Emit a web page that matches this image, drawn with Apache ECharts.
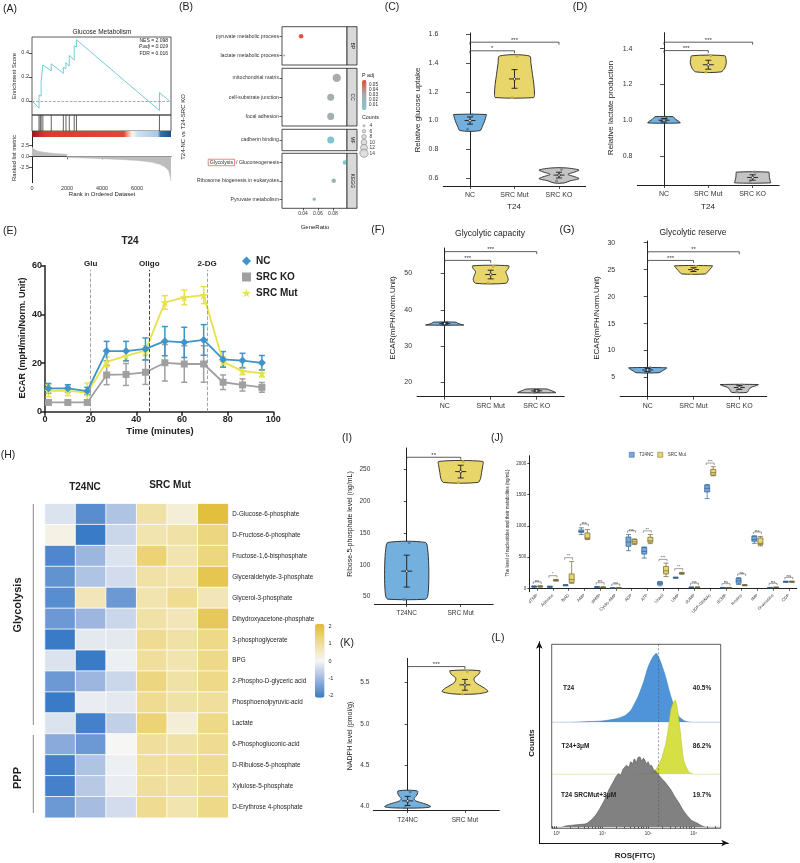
<!DOCTYPE html>
<html>
<head>
<meta charset="utf-8">
<title>SRC glucose metabolism figure</title>
<script src="https://cdn.jsdelivr.net/npm/echarts@6.0.0/dist/echarts.min.js"></script>
<style>
  html, body { margin: 0; padding: 0; background: #ffffff; }
  #fig { width: 800px; height: 863px; }
</style>
</head>
<body>
<div id="fig"></div>
<script>
const FONT = '"Liberation Sans", Arial, sans-serif';

// ---------------- data ----------------
// (A) GSEA
const esCurve = [[0,0],[400,-0.06],[400,0.05],[520,0.04],[520,0.16],[620,0.15],[620,0.30],[1100,0.25],[1100,0.31],
  [1790,0.23],[1790,0.28],[1940,0.27],[1940,0.32],[2130,0.29],[2130,0.38],[2410,0.34],[2410,0.46],[2540,0.45],
  [2540,0.51],[7280,-0.08],[7280,0.07],[7850,0.0]];
const hitRanks = [400, 470, 520, 620, 1100, 1790, 1940, 2130, 2410, 2540, 7280];
const rankMetric = [[0,2.1],[100,1.6],[300,1.2],[600,0.95],[1000,0.75],[1500,0.55],[1990,0.45],[2010,-0.25],
  [3000,-0.4],[4000,-0.55],[5000,-0.7],[6000,-0.95],[6800,-1.3],[7300,-1.8],[7600,-2.4],[7800,-3.2],[7900,-4.6],[7940,-5.5]];
const esStats = ['NES = 2.098', 'P.adj = 0.019', 'FDR = 0.016'];

// (B) enrichment
const goTerms = ['pyruvate metabolic process', 'lactate metabolic process', 'mitochondrial matrix',
  'cell-substrate junction', 'focal adhesion', 'cadherin binding', 'Glycolysis / Gluconeogenesis',
  'Ribosome biogenesis in eukaryotes', 'Pyruvate metabolism'];
const goFacet = ['BP', 'BP', 'CC', 'CC', 'CC', 'MF', 'KEGG', 'KEGG', 'KEGG'];
const goRatio = [0.0375, 0.015, 0.085, 0.077, 0.077, 0.077, 0.096, 0.081, 0.055];
const goCount = [8, 4, 14, 12, 12, 12, 8, 8, 6];
const goPadj = [0.048, 0.03, 0.03, 0.028, 0.028, 0.012, 0.011, 0.022, 0.02];
const facets = ['BP', 'CC', 'MF', 'KEGG'];
const countLevels = [4, 6, 8, 10, 12, 14];
const padjTicks = [0.05, 0.04, 0.03, 0.02, 0.01];

// (C)
const groupNames = ['NC', 'SRC Mut', 'SRC KO'];
const glucoseProfile = [
  [[0.93,0.5],[0.96,0.62],[1.0,0.74],[1.03,0.8],[1.042,0.82]],
  [[1.16,0.95],[1.18,1.0],[1.25,0.97],[1.32,0.9],[1.4,0.82],[1.45,0.75]],
  [[0.565,0.25],[0.58,0.55],[0.595,1.0],[0.61,0.75],[0.625,0.45],[0.64,0.75],[0.655,1.0],[0.67,0.35]]
];
const glucosePoints = [[0.94, 1.0, 1.04], [1.16, 1.28, 1.45], [0.58, 0.62, 0.66]];
const glucoseMean = [1.0, 1.29, 0.62];
const glucoseSD = [0.025, 0.065, 0.02];
const glucoseSig = [[0, 1, 1.486, '*'], [0, 2, 1.546, '***']];

// (D)
const lactateProfile = [
  [[0.985,0.9],[0.995,0.8],[1.005,0.65],[1.015,0.55],[1.02,0.5]],
  [[1.27,0.7],[1.29,0.9],[1.32,1.0],[1.34,0.98],[1.36,0.92]],
  [[0.65,1.0],[0.66,0.98],[0.68,0.93],[0.70,0.92],[0.71,0.9]]
];
const lactatePoints = [[0.995, 1.0, 1.01], [1.27, 1.31, 1.36], [0.66, 0.68, 0.71]];
const lactateMean = [1.0, 1.31, 0.68];
const lactateSD = [0.01, 0.025, 0.015];
const lactateSig = [[0, 1, 1.389, '***'], [0, 2, 1.436, '***']];

// (E) Seahorse ECAR
const ecarTime = [1.5, 10, 18.5, 27, 35.5, 44, 52.5, 61, 69.5, 78, 86.5, 95];
const ecarNC = [9.6, 9.6, 8.5, 24.9, 24.9, 25.8, 29.0, 28.5, 29.5, 21.5, 21.0, 20.1];
const ecarNCsd = [2, 1.5, 1.5, 4, 4, 4.5, 6, 6.2, 6.3, 3.2, 3, 3];
const ecarKO = [3.8, 3.8, 3.8, 15.1, 15.3, 16.2, 20.1, 19.6, 19.6, 12.1, 11.0, 10.0];
const ecarKOsd = [0.8, 0.8, 0.8, 4, 4.5, 5, 7.5, 7.5, 7.5, 3, 2.5, 2];
const ecarMut = [8.6, 8.6, 7.8, 20.5, 22.9, 25.1, 44.9, 47.0, 47.9, 20.5, 16.7, 15.8];
const ecarMutsd = [2.5, 2, 4, 2, 2, 2, 2.8, 3, 3.5, 2, 1.5, 1.5];
const injections = [[20, 'Glu'], [45.7, 'Oligo'], [71, '2-DG']];

// (F)
const capacityProfile = [
  [[35.8,1.0],[36.0,0.85],[36.3,0.68],[36.6,0.6]],
  [[47.3,0.8],[48.3,0.92],[49.5,0.86],[50.5,0.8],[51.3,0.92],[52.1,0.95]],
  [[17.2,1.0],[17.5,0.9],[17.9,0.7],[18.2,0.55]]
];
const capacityPoints = [[35.9, 36.2, 36.6], [47.4, 49.8, 52.0], [17.3, 17.7, 18.1]];
const capacityMean = [36.2, 49.7, 17.7];
const capacitySD = [0.3, 1.2, 0.3];
const capacitySig = [[0, 1, 53.6, '***'], [0, 2, 56, '***']];

// (G)
const reserveProfile = [
  [[5.9,0.6],[6.2,0.75],[6.5,0.9],[6.8,1.0]],
  [[24.2,0.62],[24.6,0.75],[25.0,0.85],[25.4,0.95],[25.7,1.0]],
  [[2.25,0.4],[2.6,0.48],[3.0,0.55],[3.3,0.7],[3.5,0.9],[3.7,1.0]]
];
const reservePoints = [[6.0, 6.4, 6.8], [24.3, 25.0, 25.6], [2.4, 3.1, 3.6]];
const reserveMean = [6.4, 25.0, 3.15];
const reserveSD = [0.3, 0.35, 0.35];
const reserveSig = [[0, 1, 26.7, '***'], [0, 2, 28.3, '**']];

// (H) heatmap (z-scores)
const metabolites = ['D-Glucose-6-phosphate', 'D-Fructose-6-phosphate', 'Fructose-1,6-bisphosphate',
  'Glyceraldehyde-3-phosphate', 'Glycerol-3-phosphate', 'Dihydroxyacetone-phosphate', '3-phosphoglycerate',
  'BPG', '2-Phospho-D-glyceric acid', 'Phosphoenolpyruvic-acid', 'Lactate', '6-Phosphogluconic-acid',
  'D-Ribulose-5-phosphate', 'Xylulose-5-phosphate', 'D-Erythrose 4-phosphate'];
const heatSamples = ['T24NC-1', 'T24NC-2', 'T24NC-3', 'SRC Mut-1', 'SRC Mut-2', 'SRC Mut-3'];
const heatValues = [
  [-0.3, -1.7, -0.8, 0.8, 0.3, 1.9],
  [0.15, -2.0, -0.5, 0.7, 0.8, 1.2],
  [-1.8, -1.0, -0.3, 1.3, 0.7, 1.2],
  [-1.6, -0.8, -0.4, 0.8, 0.7, 1.7],
  [-1.7, 0.6, -1.5, 0.7, 1.0, 0.6],
  [-1.5, -1.0, -0.5, 0.8, 0.6, 1.6],
  [-2.0, -0.2, -0.2, 1.0, 0.8, 1.1],
  [-0.3, -2.0, -0.1, 0.9, 0.7, 1.1],
  [-1.5, -1.0, -0.5, 1.2, 0.8, 1.1],
  [-2.0, -0.15, -0.2, 1.0, 0.8, 0.9],
  [-0.3, -1.9, -0.6, 1.3, 0.3, 1.1],
  [-1.2, -1.5, 0.0, 0.9, 0.8, 1.0],
  [-1.9, -0.8, -0.1, 0.9, 0.9, 1.0],
  [-1.9, -0.7, -0.15, 0.9, 0.8, 1.0],
  [-1.5, -0.9, -0.4, 1.0, 0.7, 1.1]
];
const heatTicks = [2, 1, 0, -1, -2];

// (I)
const pairNames = ['T24NC', 'SRC Mut'];
const riboseProfile = [
  [[46,0.85],[50,0.95],[70,1.0],[100,1.0],[125,0.95],[135,0.85]],
  [[229,0.78],[235,0.9],[245,0.95],[255,1.0],[262,1.0]]
];
const ribosePoints = [[46, 90, 135], [229, 246, 262]];
const riboseMean = [90, 246];
const riboseSD = [25, 10];
const riboseSig = [[0, 1, 268.5, '**']];

// (J) nucleotides boxplots [min, Q1, median, Q3, max]
const nucleotides = ['dTMP', 'Adenine', 'NAD', 'AMP', 'dAMP', 'Cyclic-AMP', 'ADP', 'ATP', 'Uracil', 'UMP',
  'dUMP', 'UDP-GlcNAc', 'dCMP', 'Inosine', 'IMP', 'Guanosine', 'CDP'];
const nucNC = [[15,22,28,33,40],[12,18,24,30,36],[40,45,50,55,60],[860,895,910,935,968],[10,15,20,25,30],
  [2,4,5,7,9],[602,672,740,822,860],[484,548,590,656,660],[40,60,80,100,110],[160,165,170,175,180],
  [8,12,15,18,22],[1435,1542,1600,1650,1660],[5,8,10,12,15],[60,80,120,160,170],[720,753,780,833,840],
  [5,8,10,12,15],[95,100,105,110,115]];
const nucMut = [[18,24,30,34,42],[115,122,130,136,142],[80,95,140,230,430],[780,790,805,885,940],[8,12,15,20,25],
  [2,4,5,7,9],[700,715,745,780,790],[715,737,760,817,860],[188,231,280,350,403],[225,232,240,248,255],
  [8,12,15,18,22],[1800,1811,1850,1903,1945],[5,8,10,12,15],[40,45,50,55,60],[680,699,720,806,830],
  [10,12,15,18,20],[95,100,105,110,115]];
const nucSig = ['ns', '*', '**', 'ns', 'ns', 'ns', 'ns', '**', '***', '**', 'ns', '***', 'ns', 'ns', 'ns', 'ns', 'ns'];

// (K)
const nadphProfile = [
  [[3.985,0.6],[4.0,1.0],[4.03,0.8],[4.07,0.35],[4.1,0.28],[4.14,0.4],[4.19,0.42]],
  [[5.36,0.5],[5.39,1.0],[5.43,0.85],[5.5,0.45],[5.55,0.4],[5.6,0.6],[5.64,0.65]]
];
const nadphPoints = [[3.99, 4.06, 4.18], [5.36, 5.47, 5.63]];
const nadphMean = [4.07, 5.47];
const nadphSD = [0.055, 0.065];
const nadphSig = [[0, 1, 5.69, '***']];

// (L) ROS flow histograms, x = log10(FITC), y = relative count
const rosT24 = [[2.89,0],[3.3,0],[3.7,0.01],[4.0,0.02],[4.3,0.05],[4.5,0.1],[4.62,0.17],[4.78,0.37],[4.9,0.58],
  [5.0,0.8],[5.1,0.94],[5.18,1.0],[5.26,0.9],[5.36,0.71],[5.5,0.37],[5.6,0.18],[5.68,0.08],[5.8,0.02],[5.95,0],[6.59,0]];
const rosT24Drug = [[2.89,0],[4.8,0],[5.0,0.01],[5.15,0.05],[5.28,0.19],[5.39,0.42],[5.45,0.65],[5.5,0.87],
  [5.56,0.98],[5.6,1.0],[5.65,0.85],[5.7,0.6],[5.78,0.19],[5.89,0.035],[6.0,0],[6.59,0]];
const rosMutDrug = [[2.89,0],[3.1,0],[3.2,0.02],[3.35,0.03],[3.5,0.04],[3.64,0.05],[3.75,0.1],[3.85,0.17],
  [3.93,0.25],[4.0,0.33],[4.07,0.42],[4.14,0.53],[4.2,0.6],[4.26,0.67],[4.3,0.72],[4.36,0.76],[4.4,0.74],
  [4.45,0.82],[4.5,0.86],[4.53,0.88],[4.58,0.85],[4.62,0.93],[4.66,0.9],[4.7,0.97],[4.74,0.92],[4.78,0.99],
  [4.82,1.0],[4.86,0.94],[4.9,0.98],[4.93,0.95],[4.97,0.9],[5.0,0.93],[5.04,0.87],[5.07,0.88],[5.12,0.82],
  [5.16,0.8],[5.21,0.76],[5.26,0.72],[5.31,0.68],[5.36,0.65],[5.42,0.6],[5.5,0.53],[5.58,0.44],[5.68,0.34],
  [5.76,0.25],[5.85,0.17],[5.95,0.1],[6.07,0.06],[6.18,0.02],[6.28,0],[6.59,0]];
const rosNames = ['T24', 'T24+3\u03bcM', 'T24 SRCMut+3\u03bcM'];
const rosPercent = ['40.5%', '86.2%', '19.7%'];
const rosGate = 5.23;

// ---------------- helpers ----------------
const grids = [], xAxes = [], yAxes = [], series = [], graphics = [];
const INK = '#222';

function addGrid(box, xa, ya, extra) {
  const i = grids.length;
  grids.push(Object.assign({ containLabel: false, outerBoundsMode: 'none' }, box, extra || {}));
  xa.gridIndex = i; ya.gridIndex = i;
  xAxes.push(xa); yAxes.push(ya);
  return i;
}
function hiddenAxis(min, max) {
  return { type: 'value', min: min, max: max, show: false, splitLine: { show: false } };
}
function valueAxis(min, max, ticks, fmt, o) {
  o = o || {};
  return {
    type: 'value', min: min, max: max, position: o.position,
    axisLine: o.axisLine || { show: true, lineStyle: { color: INK, width: o.lineWidth || 1 } },
    axisTick: { show: o.ticks !== false, length: o.tickLen || 3, customValues: ticks, inside: !!o.inside,
      lineStyle: { color: INK, width: o.lineWidth || 0.8 } },
    axisLabel: { show: o.labels !== false, customValues: ticks, formatter: fmt, fontSize: o.fontSize || 7,
      color: '#333', fontFamily: FONT, margin: o.margin || 3, fontWeight: o.bold ? 'bold' : 'normal' },
    splitLine: { show: false }
  };
}
function groupAxis(names, fs, margin) {
  const idx = names.map((_, i) => i);
  return {
    type: 'value', min: -0.6, max: names.length - 0.4,
    axisLine: { show: true, lineStyle: { color: INK, width: 1 } },
    axisTick: { show: true, customValues: idx, length: 3, lineStyle: { color: INK, width: 0.8 } },
    axisLabel: { customValues: idx, formatter: v => names[Math.round(v)], fontSize: fs, color: '#333',
      fontFamily: FONT, margin: margin || 6 },
    splitLine: { show: false }
  };
}
function categoryAxis(data, o) {
  o = o || {};
  return {
    type: 'category', data: data, inverse: !!o.inverse, position: o.position, show: o.show !== false,
    axisLine: o.axisLine || { show: true, lineStyle: { color: INK, width: 1 } },
    axisTick: { show: o.ticks !== false, alignWithLabel: true, length: 2.5, lineStyle: { color: INK, width: 0.7 } },
    axisLabel: Object.assign({ show: o.labels !== false, fontSize: o.fontSize || 7, color: '#333',
      fontFamily: FONT, margin: o.margin || 4, interval: 0 }, o.axisLabel || {})
  };
}
function label(x, y, str, style, rotation) {
  graphics.push({ type: 'text', x: x, y: y, rotation: rotation || 0, z: 100, silent: true,
    style: Object.assign({ text: str, fontFamily: FONT, fontSize: 7, fill: INK, align: 'center',
      verticalAlign: 'middle' }, style || {}) });
}

const violinFill3 = ['#74b0de', '#e8d66a', '#c4c4c4'];
const violinDot3 = ['#3f7fc0', '#cdb23a', '#8a8a8a'];
const violinFill2 = ['#74b0de', '#e8d66a'];
const violinDot2 = ['#3f7fc0', '#cdb23a'];

function violins(gi, profile, pts, mean, sd, halfW, fills, dots) {
  series.push({
    type: 'custom', xAxisIndex: gi, yAxisIndex: gi, z: 3, silent: true,
    data: mean.map((m, i) => [i, m]),
    renderItem: function (params, api) {
      const i = params.dataIndex;
      const left = profile[i].map(p => { const c = api.coord([i, p[0]]); return [c[0] - p[1] * halfW, c[1]]; });
      const right = profile[i].slice().reverse().map(p => { const c = api.coord([i, p[0]]); return [c[0] + p[1] * halfW, c[1]]; });
      const kids = [{ type: 'polygon', shape: { points: left.concat(right), smooth: 0.3 },
        style: { fill: fills[i], stroke: '#262626', lineWidth: 0.9 } }];
      pts[i].forEach((v, k) => {
        const c = api.coord([i, v]);
        kids.push({ type: 'circle', shape: { cx: c[0] + (k - 1) * 2.5, cy: c[1], r: 1.5 }, style: { fill: dots[i] } });
      });
      const m = api.coord([i, mean[i]]), hi = api.coord([i, mean[i] + sd[i]]), lo = api.coord([i, mean[i] - sd[i]]);
      const ln = (a, b) => ({ type: 'line', shape: { x1: a[0], y1: a[1], x2: b[0], y2: b[1] },
        style: { stroke: '#1a1a1a', lineWidth: 0.9 } });
      kids.push(ln([m[0], hi[1]], [m[0], lo[1]]));
      kids.push(ln([m[0] - 3, hi[1]], [m[0] + 3, hi[1]]));
      kids.push(ln([m[0] - 3, lo[1]], [m[0] + 3, lo[1]]));
      kids.push(ln([m[0] - 5.5, m[1]], [m[0] + 5.5, m[1]]));
      kids.push({ type: 'circle', shape: { cx: m[0], cy: m[1], r: 1.2 }, style: { fill: '#fff', stroke: '#1a1a1a', lineWidth: 0.6 } });
      return { type: 'group', children: kids };
    }
  });
}
function brackets(gi, list, fs) {
  series.push({
    type: 'custom', xAxisIndex: gi, yAxisIndex: gi, z: 4, silent: true, clip: false,
    data: list.map(b => [b[0], b[2]]),
    renderItem: function (params, api) {
      const b = list[params.dataIndex];
      const p = api.coord([b[0], b[2]]), q = api.coord([b[1], b[2]]);
      return { type: 'group', children: [
        { type: 'polyline', shape: { points: [[p[0], p[1] + 2.5], [p[0], p[1]], [q[0], q[1]], [q[0], q[1] + 2.5]] },
          style: { stroke: '#333', lineWidth: 0.8, fill: null } },
        { type: 'text', x: (p[0] + q[0]) / 2, y: p[1] + 1, style: { text: b[3], fontSize: fs, fill: '#333',
          align: 'center', verticalAlign: 'bottom', fontFamily: FONT } }
      ] };
    }
  });
}
function errorBars(gi, xs, ys, sds, color) {
  series.push({
    type: 'custom', xAxisIndex: gi, yAxisIndex: gi, z: 2, silent: true,
    data: xs.map((x, i) => [x, ys[i], sds[i]]),
    renderItem: function (params, api) {
      const x = api.value(0), y = api.value(1), s = api.value(2);
      const hi = api.coord([x, y + s]), lo = api.coord([x, y - s]);
      const st = { stroke: color, lineWidth: 1.5 };
      return { type: 'group', children: [
        { type: 'line', shape: { x1: hi[0], y1: hi[1], x2: lo[0], y2: lo[1] }, style: st },
        { type: 'line', shape: { x1: hi[0] - 3, y1: hi[1], x2: hi[0] + 3, y2: hi[1] }, style: st },
        { type: 'line', shape: { x1: lo[0] - 3, y1: lo[1], x2: lo[0] + 3, y2: lo[1] }, style: st }
      ] };
    }
  });
}

// ---------------- (A) GSEA ----------------
const gES = addGrid({ left: 32, top: 37, width: 139, height: 78 }, hiddenAxis(0, 7940),
  valueAxis(-0.117, 0.533, [0, 0.2, 0.4], v => v.toFixed(1), { fontSize: 5.5, axisLine: { show: false } }),
  { show: true, borderColor: '#333', borderWidth: 0.8 });
const gHit = addGrid({ left: 32, top: 115, width: 139, height: 16 }, hiddenAxis(0, 7940), hiddenAxis(0, 1),
  { show: true, borderColor: '#333', borderWidth: 0.8 });
const gBar = addGrid({ left: 32, top: 131, width: 139, height: 6 }, hiddenAxis(0, 7940), hiddenAxis(0, 1));
const gMet = addGrid({ left: 32, top: 137, width: 139, height: 45.7 },
  valueAxis(0, 7940, [0, 2000, 4000, 6000], v => String(v), { fontSize: 5.5 }),
  valueAxis(-5.9, 4.3, [-2.5, 0, 2.5], v => v.toFixed(1), { fontSize: 5.5 }));

series.push({ type: 'line', xAxisIndex: gES, yAxisIndex: gES, data: esCurve, symbol: 'none', silent: true,
  lineStyle: { color: '#74cdd8', width: 1 },
  markLine: { silent: true, symbol: 'none', data: [{ yAxis: 0 }], label: { show: false },
    lineStyle: { type: 'dashed', color: '#8a8a8a', width: 0.7 } } });
series.push({ type: 'custom', xAxisIndex: gHit, yAxisIndex: gHit, silent: true,
  data: hitRanks.map(r => [r, 0]),
  renderItem: function (params, api) {
    const a = api.coord([api.value(0), 0]), b = api.coord([api.value(0), 1]);
    return { type: 'line', shape: { x1: a[0], y1: a[1], x2: b[0], y2: b[1] }, style: { stroke: '#3a3a3a', lineWidth: 0.8 } };
  } });
series.push({ type: 'custom', xAxisIndex: gBar, yAxisIndex: gBar, silent: true,
  data: [[0, 7940]],
  renderItem: function (params, api) {
    const a = api.coord([api.value(0), 1]), b = api.coord([api.value(1), 0]);
    return { type: 'rect', shape: { x: a[0], y: a[1], width: b[0] - a[0], height: b[1] - a[1] },
      style: { fill: new echarts.graphic.LinearGradient(0, 0, 1, 0, [
        { offset: 0, color: '#8e1b1b' }, { offset: 0.05, color: '#c2292a' }, { offset: 0.1, color: '#d93a30' },
        { offset: 0.66, color: '#e0473b' }, { offset: 0.69, color: '#f2a48a' }, { offset: 0.715, color: '#fbe8df' },
        { offset: 0.73, color: '#eef3f8' }, { offset: 0.76, color: '#cfe1f0' }, { offset: 0.905, color: '#a9c9e5' },
        { offset: 0.925, color: '#3470b0' }, { offset: 1, color: '#1f4c8a' }]) } };
  } });
series.push({ type: 'line', xAxisIndex: gMet, yAxisIndex: gMet, data: rankMetric, symbol: 'none', silent: true,
  lineStyle: { color: '#bdbdbd', width: 0.5 }, areaStyle: { color: '#bdbdbd', opacity: 1 } });

label(102, 32, 'Glucose Metabolism', { fontSize: 6.5 });
esStats.forEach((s, k) => label(168, 40.7 + k * 6.3, s, { fontSize: 5, align: 'right', fontStyle: k === 1 ? 'italic' : 'normal' }));
label(14, 76, 'Enrichment Score', { fontSize: 5.8 }, Math.PI / 2);
label(14, 158, 'Ranked list metric', { fontSize: 5.8 }, Math.PI / 2);
label(102, 194, 'Rank in Ordered Dataset', { fontSize: 6 });

// ---------------- (B) dot plot ----------------
const sizeOf = c => 0.62 * c - 0.4;
const facetBox = [[26.7, 38.3], [68.3, 57.7], [129.3, 21.4], [153.3, 55]];
const dotSeries = [];
facets.forEach((f, fi) => {
  const terms = goTerms.filter((t, i) => goFacet[i] === f);
  const last = fi === facets.length - 1;
  const gi = addGrid({ left: 282, top: facetBox[fi][0], width: 65, height: facetBox[fi][1] },
    valueAxis(0.012, 0.0987, [0.04, 0.06, 0.08], v => v.toFixed(2),
      { labels: last, ticks: last, fontSize: 5, axisLine: { show: false }, tickLen: 2 }),
    categoryAxis(terms, { inverse: true, fontSize: 5.2, margin: 3, axisLine: { show: false },
      axisLabel: { color: '#333',
        formatter: v => v.indexOf('Glycolysis') === 0 ? '{box|Glycolysis} / Gluconeogenesis' : v,
        rich: { box: { borderColor: '#d9534f', borderWidth: 0.7, padding: [1, 1.5, 0.5, 1.5], fontSize: 5.2, color: '#333' } } } }),
    { show: true, borderColor: '#222', borderWidth: 0.8 });
  dotSeries.push(series.length);
  series.push({ type: 'scatter', xAxisIndex: gi, yAxisIndex: gi, silent: true,
    data: goTerms.map((t, i) => [goRatio[i], t, goPadj[i], goCount[i]]).filter((d, i) => goFacet[i] === f),
    symbolSize: v => sizeOf(v[3]), itemStyle: { opacity: 1 } });
  graphics.push({ type: 'rect', z: 100, silent: true,
    shape: { x: 347, y: facetBox[fi][0], width: 10, height: facetBox[fi][1] },
    style: { fill: '#d9d9d9', stroke: '#222', lineWidth: 0.8 } });
  label(352, facetBox[fi][0] + facetBox[fi][1] / 2, f, { fontSize: 5 }, -Math.PI / 2);
});
const gCnt = addGrid({ left: 360, top: 123, width: 8, height: 33 }, hiddenAxis(-1, 1),
  categoryAxis(countLevels.map(String), { inverse: true, position: 'right', axisLine: { show: false }, ticks: false,
    fontSize: 4.8, margin: 1.5 }));
series.push({ type: 'scatter', xAxisIndex: gCnt, yAxisIndex: gCnt, silent: true,
  data: countLevels.map(c => [0, String(c), c]), symbolSize: v => sizeOf(v[2]),
  itemStyle: { color: '#d6d6d6', borderColor: '#555', borderWidth: 0.5 } });
label(362, 76, 'P adj', { fontSize: 5.3, align: 'left' });
padjTicks.forEach((p, k) => label(369, 84.3 + k * 5, p.toFixed(2), { fontSize: 4.6, align: 'left' }));
label(362, 118, 'Counts', { fontSize: 5.3, align: 'left' });
label(183, 127, 'T24-NC vs T24-SRC KO', { fontSize: 6 }, Math.PI / 2);
label(315, 227, 'GeneRatio', { fontSize: 6 });

// ---------------- (C) (D) (F) (G) violins ----------------
const vy = { margin: 5, tickLen: 4 };
const gC = addGrid({ left: 443.3, top: 33, width: 142.4, height: 153 }, groupAxis(groupNames, 7),
  valueAxis(0.544, 1.61, [0.6, 0.8, 1.0, 1.2, 1.4, 1.6], v => v.toFixed(1), vy));
violins(gC, glucoseProfile, glucosePoints, glucoseMean, glucoseSD, 20, violinFill3, violinDot3);
brackets(gC, glucoseSig, 6);
label(418, 110, 'Relative glucose uptake', { fontSize: 8 }, Math.PI / 2);
label(514, 207, 'T24', { fontSize: 8 });

const gD = addGrid({ left: 637.4, top: 32.7, width: 141.8, height: 152.3 }, groupAxis(groupNames, 7),
  valueAxis(0.638, 1.489, [0.8, 1.0, 1.2, 1.4], v => v.toFixed(1), vy));
violins(gD, lactateProfile, lactatePoints, lactateMean, lactateSD, 18, violinFill3, violinDot3);
brackets(gD, lactateSig, 6);
label(611, 108, 'Relative lactate production', { fontSize: 8 }, Math.PI / 2);
label(708, 207, 'T24', { fontSize: 8 });

const gF = addGrid({ left: 417.1, top: 248, width: 147.2, height: 148.7 }, groupAxis(groupNames, 7),
  valueAxis(16.1, 57, [20, 30, 40, 50], v => String(v), vy));
violins(gF, capacityProfile, capacityPoints, capacityMean, capacitySD, 19, violinFill3, violinDot3);
brackets(gF, capacitySig, 6);
label(393, 318, 'ECAR(mPH/Norm.Unit)', { fontSize: 8 }, Math.PI / 2);
label(490, 234, 'Glycolytic capacity', { fontSize: 8.5 });

const gG = addGrid({ left: 620.2, top: 241, width: 146.6, height: 155.7 }, groupAxis(groupNames, 7),
  valueAxis(1.45, 30.3, [5, 10, 15, 20, 25, 30], v => String(v), vy));
violins(gG, reserveProfile, reservePoints, reserveMean, reserveSD, 19, violinFill3, violinDot3);
brackets(gG, reserveSig, 6);
label(597, 318, 'ECAR(mPH/Norm.Unit)', { fontSize: 8 }, Math.PI / 2);
label(693, 233, 'Glycolytic reserve', { fontSize: 8.5 });

// ---------------- (E) ECAR time course ----------------
const cNC = '#3d95c9', cKO = '#a0a0a0', cMut = '#e8e24a';
const starPath = 'path://M50,2 L61,37 L98,37 L68,59 L79,94 L50,72 L21,94 L32,59 L2,37 L39,37 Z';
const gE = addGrid({ left: 45, top: 265.7, width: 228.3, height: 146 },
  { type: 'value', min: 0, max: 100, interval: 20, axisLine: { lineStyle: { color: INK, width: 1.5 } },
    axisTick: { length: 4, lineStyle: { color: INK, width: 1.5 } },
    axisLabel: { fontSize: 9, fontWeight: 'bold', color: INK, fontFamily: FONT, margin: 3 }, splitLine: { show: false } },
  { type: 'value', min: 0, max: 60, interval: 20, axisLine: { show: true, lineStyle: { color: INK, width: 1.5 } },
    axisTick: { show: true, length: 4, lineStyle: { color: INK, width: 1.5 } },
    axisLabel: { fontSize: 9, fontWeight: 'bold', color: INK, fontFamily: FONT, margin: 3 }, splitLine: { show: false } });
errorBars(gE, ecarTime, ecarKO, ecarKOsd, cKO);
errorBars(gE, ecarTime, ecarMut, ecarMutsd, cMut);
errorBars(gE, ecarTime, ecarNC, ecarNCsd, cNC);
series.push({ type: 'line', name: 'SRC KO', xAxisIndex: gE, yAxisIndex: gE, z: 3, silent: true,
  data: ecarTime.map((t, i) => [t, ecarKO[i]]), symbol: 'rect', symbolSize: 7,
  lineStyle: { color: cKO, width: 1.8 }, itemStyle: { color: cKO },
  markLine: { silent: true, symbol: ['none', 'none'],
    label: { show: true, position: 'end', formatter: '{b}', fontSize: 8, fontWeight: 'bold', color: INK, fontFamily: FONT, distance: 2 },
    lineStyle: { type: 'dashed', width: 0.9, color: '#999' },
    data: injections.map(d => [{ coord: [d[0], 0], name: d[1], lineStyle: { color: d[1] === 'Oligo' ? '#333' : '#999' } },
      { coord: [d[0], 58.3] }]) } });
series.push({ type: 'line', name: 'SRC Mut', xAxisIndex: gE, yAxisIndex: gE, z: 4, silent: true,
  data: ecarTime.map((t, i) => [t, ecarMut[i]]), symbol: starPath, symbolSize: 9,
  lineStyle: { color: cMut, width: 1.8 }, itemStyle: { color: cMut } });
series.push({ type: 'line', name: 'NC', xAxisIndex: gE, yAxisIndex: gE, z: 5, silent: true,
  data: ecarTime.map((t, i) => [t, ecarNC[i]]), symbol: 'diamond', symbolSize: 8,
  lineStyle: { color: cNC, width: 1.8 }, itemStyle: { color: cNC } });
label(130, 241, 'T24', { fontSize: 10, fontWeight: 'bold' });
label(23, 338, 'ECAR (mpH/min/Norm. Unit)', { fontSize: 9, fontWeight: 'bold' }, Math.PI / 2);
label(160, 431, 'Time (minutes)', { fontSize: 9.5, fontWeight: 'bold' });

// ---------------- (H) heatmap ----------------
const gH = addGrid({ left: 45, top: 503.7, width: 183.3, height: 314 },
  categoryAxis(heatSamples, { show: false }),
  categoryAxis(metabolites, { inverse: true, position: 'right', axisLine: { show: false }, ticks: false,
    fontSize: 6.3, margin: 4, axisLabel: { color: INK } }));
const heatIndex = series.length;
const heatData = [];
heatValues.forEach((row, r) => row.forEach((v, c) => heatData.push([c, r, v])));
series.push({ type: 'heatmap', xAxisIndex: gH, yAxisIndex: gH, data: heatData, silent: true,
  itemStyle: { borderColor: '#ffffff', borderWidth: 0.8 } });
heatTicks.forEach(v => label(328.5, 661.2 - v * 17.25, String(v), { fontSize: 5.5, align: 'left' }));
label(85, 487, 'T24NC', { fontSize: 10, fontWeight: 'bold' });
label(170, 485, 'SRC Mut', { fontSize: 10, fontWeight: 'bold' });
graphics.push({ type: 'line', z: 100, silent: true, shape: { x1: 33.3, y1: 504, x2: 33.3, y2: 725 }, style: { stroke: '#888', lineWidth: 1 } });
graphics.push({ type: 'line', z: 100, silent: true, shape: { x1: 33.3, y1: 735, x2: 33.3, y2: 813 }, style: { stroke: '#888', lineWidth: 1 } });
label(18, 605, 'Glycolysis', { fontSize: 11, fontWeight: 'bold' }, Math.PI / 2);
label(18, 778, 'PPP', { fontSize: 11, fontWeight: 'bold' }, Math.PI / 2);

// ---------------- (I) ----------------
const gI = addGrid({ left: 374.3, top: 448, width: 118.8, height: 156 }, groupAxis(pairNames, 6.5, 5.5),
  valueAxis(38.5, 283, [50, 100, 150, 200, 250], v => String(v), { fontSize: 6.5, margin: 4, tickLen: 3 }));
violins(gI, riboseProfile, ribosePoints, riboseMean, riboseSD, 22, violinFill2, violinDot2);
brackets(gI, riboseSig, 6);
label(350, 524, 'Ribose-5-phosphate level (ng/mL)', { fontSize: 7 }, Math.PI / 2);

// ---------------- (J) boxplots ----------------
const cJnc = '#76a9db', cJmut = '#ead56e';
const gJ = addGrid({ left: 529.3, top: 455.7, width: 267.4, height: 136 },
  categoryAxis(nucleotides, { fontSize: 4.3, margin: 3, axisLabel: { rotate: 45 } }),
  valueAxis(-54, 2122, [0, 500, 1000, 1500, 2000], v => String(v), { fontSize: 4.5, tickLen: 2 }));
series.push({ type: 'boxplot', name: 'J-T24NC', xAxisIndex: gJ, yAxisIndex: gJ, data: nucNC, boxWidth: [5, 5], silent: true,
  itemStyle: { color: cJnc, borderColor: '#2c5b8c', borderWidth: 0.7 } });
series.push({ type: 'boxplot', name: 'J-SRC Mut', xAxisIndex: gJ, yAxisIndex: gJ, data: nucMut, boxWidth: [5, 5], silent: true,
  itemStyle: { color: cJmut, borderColor: '#6b6330', borderWidth: 0.7 } });
series.push({ type: 'custom', xAxisIndex: gJ, yAxisIndex: gJ, z: 4, silent: true, clip: false,
  data: nucleotides.map((n, i) => [i, Math.max(nucNC[i][4], nucMut[i][4]) + 60]),
  renderItem: function (params, api) {
    const p = api.coord([api.value(0), api.value(1)]);
    return { type: 'group', children: [
      { type: 'polyline', shape: { points: [[p[0] - 4, p[1] + 2], [p[0] - 4, p[1]], [p[0] + 4, p[1]], [p[0] + 4, p[1] + 2]] },
        style: { stroke: '#444', lineWidth: 0.5, fill: null } },
      { type: 'text', x: p[0], y: p[1] + 0.5, style: { text: nucSig[params.dataIndex], fontSize: 4.3, fill: '#333',
        align: 'center', verticalAlign: 'bottom', fontFamily: FONT } }
    ] };
  } });
label(508, 523, 'The level of nucleotides and their metabolites (ng/mL)', { fontSize: 4.5 }, Math.PI / 2);

// ---------------- (K) ----------------
const gK = addGrid({ left: 373.3, top: 658.3, width: 126, height: 151.7 }, groupAxis(pairNames, 6.5, 7),
  valueAxis(3.96, 5.79, [4.0, 4.5, 5.0, 5.5], v => v.toFixed(1), { fontSize: 6.5, margin: 4, tickLen: 3 }));
violins(gK, nadphProfile, nadphPoints, nadphMean, nadphSD, 23, violinFill2, violinDot2);
brackets(gK, nadphSig, 6);
label(350, 736, 'NADPH level (pmol/g)', { fontSize: 7 }, Math.PI / 2);

// ---------------- (L) ROS histograms ----------------
const arrowAxis = { type: 'value', min: 0, max: 1, splitLine: { show: false }, axisTick: { show: false }, axisLabel: { show: false },
  axisLine: { show: true, symbol: ['none', 'arrow'], symbolSize: [5, 7], lineStyle: { color: '#111', width: 1 } } };
addGrid({ left: 539.3, top: 641.7, width: 189, height: 201.3 }, Object.assign({}, arrowAxis), Object.assign({}, arrowAxis));
const sup = { 3: '\u00b3', 4: '\u2074', 5: '\u2075', 6: '\u2076' };
const rosTicks = [];
for (let e = 2; e <= 6; e++) for (let k = 1; k <= 9; k++) {
  const v = e + Math.log10(k);
  if (v >= 2.89 && v <= 6.59) rosTicks.push(v);
}
const gLbox = addGrid({ left: 551.7, top: 644.3, width: 169, height: 184 },
  valueAxis(2.89, 6.59, rosTicks, v => '10' + (sup[Math.round(v)] || ''),
    { fontSize: 4.5, axisLine: { show: false }, tickLen: 2, inside: true }),
  hiddenAxis(0, 1), { show: true, borderColor: '#333', borderWidth: 0.8 });
xAxes[gLbox].axisLabel.customValues = [3, 4, 5, 6];
series.push({ type: 'custom', xAxisIndex: gLbox, yAxisIndex: gLbox, z: 6, silent: true, data: [[rosGate, 0]],
  renderItem: function (params, api) {
    const a = api.coord([api.value(0), 1]), b = api.coord([api.value(0), 0]);
    return { type: 'line', shape: { x1: a[0], y1: a[1], x2: b[0], y2: b[1] },
      style: { stroke: '#555', lineWidth: 0.6, lineDash: [2, 2] } };
  } });
const tracks = [
  { data: rosT24, top: 653.3, h: 69, fill: '#4f93d8', line: '#3d7fc2', z: 2, op: 1 },
  { data: rosT24Drug, top: 700.3, h: 74, fill: '#d6e045', line: '#b9c437', z: 3, op: 1 },
  { data: rosMutDrug, top: 756.7, h: 70.6, fill: '#6f6f6f', line: '#505050', z: 4, op: 0.88 }
];
tracks.forEach(t => {
  const gi = addGrid({ left: 551.7, top: t.top, width: 169, height: t.h }, hiddenAxis(2.89, 6.59), hiddenAxis(0, 1));
  series.push({ type: 'line', xAxisIndex: gi, yAxisIndex: gi, z: t.z, data: t.data, symbol: 'none', silent: true,
    smooth: 0.2, lineStyle: { color: t.line, width: 0.6 }, areaStyle: { color: t.fill, opacity: t.op } });
});
label(563, 688.3, rosNames[0], { fontSize: 6.5, fontWeight: 'bold', align: 'left' });
label(561.5, 746.7, rosNames[1], { fontSize: 6.5, fontWeight: 'bold', align: 'left' });
label(561, 795, rosNames[2], { fontSize: 6.5, fontWeight: 'bold', align: 'left' });
[688.3, 746.7, 795].forEach((y, k) => label(702, y, rosPercent[k], { fontSize: 6.5, fontWeight: 'bold' }));
label(531.5, 743, 'Counts', { fontSize: 8, fontWeight: 'bold' }, Math.PI / 2);
label(635, 855.5, 'ROS(FITC)', { fontSize: 8, fontWeight: 'bold' });

// ---------------- panel letters ----------------
[['(A)', 10, 9], ['(B)', 186, 7], ['(C)', 392, 7], ['(D)', 580, 7], ['(E)', 10, 231], ['(F)', 378, 230],
 ['(G)', 567, 230], ['(H)', 8, 455], ['(I)', 347, 438], ['(J)', 497, 438], ['(K)', 347, 643], ['(L)', 498, 638]]
  .forEach(p => label(p[1], p[2], p[0], { fontSize: 10.5, fill: '#222' }));

// ---------------- chart ----------------
const chart = echarts.init(document.getElementById('fig'), null, { renderer: 'canvas' });
chart.setOption({
  backgroundColor: '#ffffff',
  animation: false,
  textStyle: { fontFamily: FONT },
  grid: grids,
  xAxis: xAxes,
  yAxis: yAxes,
  visualMap: [
    { type: 'continuous', min: 0.01, max: 0.05, seriesIndex: dotSeries, dimension: 2, left: 362, top: 80,
      itemWidth: 4.5, itemHeight: 30, padding: 0, calculable: false, text: null,
      inRange: { color: ['#7fc7d3', '#a9abad', '#e64b35'] } },
    { type: 'continuous', min: -2, max: 2, seriesIndex: heatIndex, dimension: 2, left: 315, top: 624,
      itemWidth: 9.5, itemHeight: 73.7, padding: 0, calculable: false, text: null,
      inRange: { color: ['#3a7bc8', '#9db6df', '#f6f6f4', '#efdc92', '#e0bd34'] } }
  ],
  legend: [
    { data: [{ name: 'NC', icon: 'diamond' }, { name: 'SRC KO', icon: 'rect' }, { name: 'SRC Mut', icon: starPath }],
      orient: 'vertical', left: 237, top: 251, itemWidth: 9, itemHeight: 9, itemGap: 6, selectedMode: false,
      textStyle: { fontSize: 10, fontWeight: 'bold', color: INK, fontFamily: FONT } },
    { data: [
        { name: 'J-T24NC', itemStyle: { color: cJnc, borderColor: '#2c5b8c', borderWidth: 0.5 } },
        { name: 'J-SRC Mut', itemStyle: { color: cJmut, borderColor: '#6b6330', borderWidth: 0.5 } }],
      formatter: n => n.replace('J-', ''), left: 624, top: 447,
      itemWidth: 5, itemHeight: 5, itemGap: 4, icon: 'rect', selectedMode: false,
      textStyle: { fontSize: 4.5, color: '#333', fontFamily: FONT } }
  ],
  series: series,
  graphic: { elements: graphics }
});
</script>
</body>
</html>
